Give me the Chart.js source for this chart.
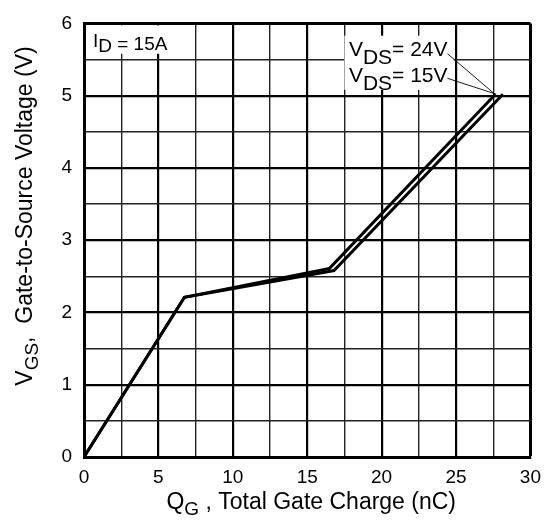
<!DOCTYPE html>
<html>
<head>
<meta charset="utf-8">
<script src="https://cdn.jsdelivr.net/npm/chart.js@4/dist/chart.umd.min.js"></script>
<style>
  html, body { margin: 0; padding: 0; background: #fff; }
  #wrap { width: 550px; height: 522px; }
</style>
</head>
<body>
<div id="wrap"><canvas id="gateChart" width="550" height="522"></canvas></div>
<script>
const qg15 = [0, 6.75, 16.5, 27.65];
const vgs15 = [0, 2.21, 2.61, 5.02];
const qg24 = [0, 6.75, 16.8, 28.15];
const vgs24 = [0, 2.21, 2.58, 5.02];

const xTicks = [0, 5, 10, 15, 20, 25, 30];
const yTicks = [0, 1, 2, 3, 4, 5, 6];

const FONT = '"Liberation Sans", Arial, Helvetica, sans-serif';

function toPoints(xs, ys) {
    return xs.map((x, i) => ({ x: x, y: ys[i] }));
}

// traits forts sur les valeurs entières / multiples de 5
function isMajor(v, step) {
    return Math.abs(v / step - Math.round(v / step)) < 1e-6;
}
function gridWidth(step, edge) {
    return ctx => {
        const v = ctx.tick ? ctx.tick.value : 0;
        if (v === edge) return 3;
        return isMajor(v, step) ? 2.2 : 1.4;
    };
}
function gridColor(step) {
    return ctx => {
        const v = ctx.tick ? ctx.tick.value : 0;
        return isMajor(v, step) ? '#000' : '#222';
    };
}

// texte avec indice : [ [texte, taille, décalage vertical], ... ]
function drawRuns(c, runs, x, y) {
    let cx = x;
    runs.forEach(r => {
        c.font = r[1] + 'px ' + FONT;
        c.fillText(r[0], cx, y + r[2]);
        cx += c.measureText(r[0]).width;
    });
    return cx;
}
function runsWidth(c, runs) {
    let w = 0;
    runs.forEach(r => {
        c.font = r[1] + 'px ' + FONT;
        w += c.measureText(r[0]).width;
    });
    return w;
}

const annotations = {
    id: 'annotations',
    beforeDatasetsDraw(chart) {
        const c = chart.ctx;
        const xs = chart.scales.x, ys = chart.scales.y;
        c.save();
        // fonds blancs des étiquettes
        c.fillStyle = '#fff';
        c.fillRect(xs.getPixelForValue(0) + 2, ys.getPixelForValue(6) + 2,
            xs.getPixelForValue(5.8) - xs.getPixelForValue(0) - 2,
            ys.getPixelForValue(5.58) - ys.getPixelForValue(6) - 2);
        c.fillRect(xs.getPixelForValue(17.5), ys.getPixelForValue(5.83),
            xs.getPixelForValue(24.85) - xs.getPixelForValue(17.5),
            ys.getPixelForValue(5.08) - ys.getPixelForValue(5.83));

        c.fillStyle = '#000';
        c.textBaseline = 'alphabetic';
        c.textAlign = 'left';
        // I_D = 15A
        drawRuns(c, [['I', 19, 0], ['D', 19, 5], [' = 15A', 19, 3]],
            xs.getPixelForValue(0.6), ys.getPixelForValue(5.67));

        // V_DS labels + lignes de rappel
        const lx = xs.getPixelForValue(17.8);
        const end24 = drawRuns(c, [['V', 21, 0], ['DS', 21, 8], ['= 24V', 21, 0]], lx, ys.getPixelForValue(5.55));
        const end15 = drawRuns(c, [['V', 21, 0], ['DS', 21, 8], ['= 15V', 21, 0]], lx, ys.getPixelForValue(5.19));
        c.strokeStyle = '#000';
        c.lineWidth = 0.9;
        c.beginPath();
        c.moveTo(end24, ys.getPixelForValue(5.58));
        c.lineTo(xs.getPixelForValue(27.5), ys.getPixelForValue(5.04));
        c.moveTo(end15, ys.getPixelForValue(5.24));
        c.lineTo(xs.getPixelForValue(27.7), ys.getPixelForValue(5.02));
        c.stroke();
        c.restore();
    },
    afterDraw(chart) {
        const c = chart.ctx;
        const a = chart.chartArea;
        c.save();
        c.fillStyle = '#000';
        c.textBaseline = 'alphabetic';
        c.textAlign = 'left';
        // titre axe X
        const xRuns = [['Q', 23, 0], ['G', 19, 6], [' , Total Gate Charge (nC)', 23, 0]];
        const xw = runsWidth(c, xRuns);
        drawRuns(c, xRuns, (a.left + a.right) / 2 - xw / 2 + 4, 509);
        // titre axe Y
        const yRuns = [['V', 23, 0], ['GS', 19, 6], [',  Gate-to-Source Voltage (V)', 23, 0]];
        const yw = runsWidth(c, yRuns);
        c.translate(32, 216);
        c.rotate(-Math.PI / 2);
        drawRuns(c, yRuns, -yw / 2, 0);
        c.restore();
    }
};

const ctx = document.getElementById('gateChart').getContext('2d');
const chart = new Chart(ctx, {
    type: 'line',
    data: {
        datasets: [
            {
                label: 'VDS = 15V',
                data: toPoints(qg15, vgs15),
                borderColor: '#000',
                borderWidth: 3,
                pointRadius: 0,
                tension: 0,
                fill: false
            },
            {
                label: 'VDS = 24V',
                data: toPoints(qg24, vgs24),
                borderColor: '#000',
                borderWidth: 3,
                pointRadius: 0,
                tension: 0,
                fill: false
            }
        ]
    },
    options: {
        responsive: false,
        animation: false,
        events: [],
        layout: { padding: { top: 12, right: 18, left: 0, bottom: 0 } },
        plugins: { legend: { display: false }, tooltip: { enabled: false } },
        scales: {
            x: {
                type: 'linear',
                min: 0,
                max: 30,
                afterFit: s => { s.height = 65; },
                ticks: {
                    stepSize: 2.5,
                    autoSkip: false,
                    maxRotation: 0,
                    padding: 9,
                    color: '#000',
                    font: { family: FONT, size: 19 },
                    callback: v => xTicks.includes(v) ? String(v) : ''
                },
                grid: {
                    drawTicks: false,
                    lineWidth: gridWidth(5, 30),
                    color: gridColor(5)
                },
                border: { display: true, width: 3, color: '#000' }
            },
            y: {
                type: 'linear',
                min: 0,
                max: 6,
                afterFit: s => { s.width = 84; },
                ticks: {
                    stepSize: 0.5,
                    autoSkip: false,
                    padding: 12,
                    color: '#000',
                    font: { family: FONT, size: 19 },
                    callback: v => yTicks.includes(v) ? String(v) : ''
                },
                grid: {
                    drawTicks: false,
                    lineWidth: gridWidth(1, 6),
                    color: gridColor(1)
                },
                border: { display: true, width: 3, color: '#000' }
            }
        }
    },
    plugins: [annotations]
});
</script>
</body>
</html>
